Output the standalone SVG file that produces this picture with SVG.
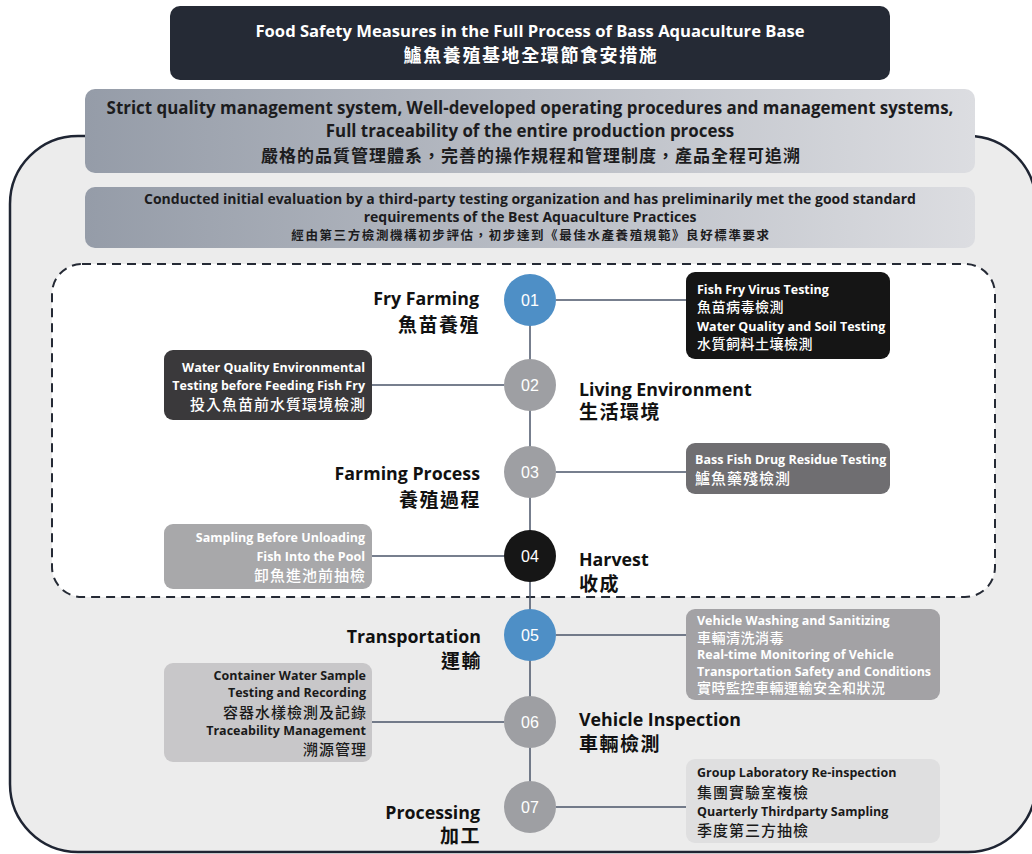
<svg xmlns="http://www.w3.org/2000/svg" width="1032" height="854" viewBox="0 0 1032 854">
<defs>
<linearGradient id="band" x1="0" y1="0" x2="1" y2="0">
<stop offset="0" stop-color="#959ca8"/>
<stop offset="1" stop-color="#dcdde1"/>
</linearGradient>
<style>
text{font-family:'Open Sans','Noto Sans CJK TC',sans-serif;}
.t{font-weight:700;fill:#ffffff;font-size:16.6px;text-anchor:middle;}
.tc{font-weight:700;fill:#ffffff;font-size:18px;text-anchor:middle;letter-spacing:1.6px;}
.q{font-weight:700;fill:#1c1c1e;font-size:16.9px;text-anchor:middle;}
.qc{font-weight:700;fill:#1c1c1e;font-size:17px;text-anchor:middle;letter-spacing:1px;}
.e{font-weight:700;fill:#1c1c1e;font-size:14px;text-anchor:middle;}
.ec{font-weight:700;fill:#1c1c1e;font-size:12.5px;text-anchor:middle;letter-spacing:1.6px;}
.lbl{font-weight:700;fill:#111;font-size:17.8px;}
.lblc{font-weight:700;fill:#111;font-size:19px;letter-spacing:1.5px;}
.end{text-anchor:end;}
.num{font-family:'Liberation Sans',sans-serif;font-size:16px;fill:#fff;text-anchor:middle;}
.bx{font-weight:700;font-size:12.5px;}
.bxc{font-weight:500;font-size:14px;letter-spacing:0.5px;}
.w{fill:#ffffff;}
.d{fill:#1a1a1a;}
.conn{stroke:#4a5468;stroke-width:1.5;fill:none;}
</style>
</defs>
<rect x="0" y="0" width="1032" height="854" fill="#ffffff"/>
<rect id="outer" x="10" y="136" width="1026" height="716" rx="68" fill="#ececec" stroke="#1f2533" stroke-width="2.5"/>

<g id="title">
<rect x="170" y="6" width="720" height="74" rx="10" fill="#252a35"/>
<text class="t" x="530" y="37">Food Safety Measures in the Full Process of Bass Aquaculture Base</text>
<text class="tc" x="531" y="62">鱸魚養殖基地全環節食安措施</text>
</g>

<g id="quality">
<rect x="85" y="89" width="890" height="84" rx="10" fill="url(#band)"/>
<text class="q" x="530" y="114">Strict quality management system, Well-developed operating procedures and management systems,</text>
<text class="q" x="530" y="137">Full traceability of the entire production process</text>
<text class="qc" x="531" y="162">嚴格的品質管理體系，完善的操作規程和管理制度，產品全程可追溯</text>
</g>

<g id="evaluation">
<rect x="85" y="187" width="890" height="61" rx="10" fill="url(#band)"/>
<text class="e" x="530" y="204">Conducted initial evaluation by a third-party testing organization and has preliminarily met the good standard</text>
<text class="e" x="530" y="222">requirements of  the Best Aquaculture Practices</text>
<text class="ec" x="531" y="240">經由第三方檢測機構初步評估，初步達到《最佳水產養殖規範》良好標準要求</text>
</g>

<rect id="farm-zone" x="52" y="264" width="943" height="333" rx="30" fill="#ffffff" stroke="#252a35" stroke-width="2" stroke-dasharray="9 6"/>

<g id="connectors">
<line class="conn" x1="530" y1="300" x2="530" y2="807"/>
<line class="conn" x1="556" y1="300" x2="686" y2="300"/>
<line class="conn" x1="372" y1="385" x2="504" y2="385"/>
<line class="conn" x1="556" y1="472" x2="686" y2="472"/>
<line class="conn" x1="372" y1="556" x2="504" y2="556"/>
<line class="conn" x1="556" y1="635" x2="686" y2="635"/>
<line class="conn" x1="372" y1="722" x2="504" y2="722"/>
<line class="conn" x1="556" y1="807" x2="686" y2="807"/>
</g>

<g id="step01">
<circle cx="530" cy="300" r="26" fill="#4e8fc6"/>
<text class="num" x="530" y="306">01</text>
<text class="lbl end" x="479" y="305">Fry Farming</text>
<text class="lblc end" x="480" y="332">魚苗養殖</text>
</g>
<g id="box01">
<rect x="686" y="272" width="204" height="87" rx="9" fill="#151515"/>
<text class="bx w" x="697" y="294">Fish Fry Virus Testing</text>
<text class="bxc w" x="697" y="312">魚苗病毒檢測</text>
<text class="bx w" x="697" y="331">Water Quality and Soil Testing</text>
<text class="bxc w" x="697" y="349">水質飼料土壤檢測</text>
</g>

<g id="step02">
<circle cx="530" cy="385" r="26" fill="#9e9fa3"/>
<text class="num" x="530" y="391">02</text>
<text class="lbl" x="579" y="396">Living Environment</text>
<text class="lblc" x="579" y="419">生活環境</text>
</g>
<g id="box02">
<rect x="164" y="350" width="208" height="70" rx="9" fill="#3a393b"/>
<text class="bx w end" x="365" y="372">Water Quality Environmental</text>
<text class="bx w end" x="365" y="390">Testing before Feeding Fish Fry</text>
<text class="bxc w end" x="366" y="410" style="font-size:15px;letter-spacing:1px">投入魚苗前水質環境檢測</text>
</g>

<g id="step03">
<circle cx="530" cy="472" r="26" fill="#9e9fa3"/>
<text class="num" x="530" y="478">03</text>
<text class="lbl end" x="480" y="480">Farming Process</text>
<text class="lblc end" x="481" y="507">養殖過程</text>
</g>
<g id="box03">
<rect x="686" y="443" width="204" height="51" rx="9" fill="#6f6e71"/>
<text class="bx w" x="695" y="464">Bass Fish Drug Residue Testing</text>
<text class="bxc w" x="695" y="484" style="font-size:15px;letter-spacing:1px">鱸魚藥殘檢測</text>
</g>

<g id="step04">
<circle cx="530" cy="556" r="26" fill="#161616"/>
<text class="num" x="530" y="562">04</text>
<text class="lbl" x="579" y="566">Harvest</text>
<text class="lblc" x="579" y="591">收成</text>
</g>
<g id="box04">
<rect x="164" y="524" width="208" height="65" rx="9" fill="#a8a8aa"/>
<text class="bx w end" x="365" y="542">Sampling Before Unloading</text>
<text class="bx w end" x="365" y="561">Fish Into the Pool</text>
<text class="bxc w end" x="366" y="581" style="font-size:15px;letter-spacing:1px">卸魚進池前抽檢</text>
</g>

<g id="step05">
<circle cx="530" cy="635" r="26" fill="#4e8fc6"/>
<text class="num" x="530" y="641">05</text>
<text class="lbl end" x="481" y="643">Transportation</text>
<text class="lblc end" x="482" y="668">運輸</text>
</g>
<g id="box05">
<rect x="686" y="609" width="254" height="91" rx="9" fill="#a3a2a5"/>
<text class="bx w" x="697" y="625">Vehicle Washing and Sanitizing</text>
<text class="bxc w" x="697" y="643">車輛清洗消毒</text>
<text class="bx w" x="697" y="659">Real-time Monitoring of Vehicle</text>
<text class="bx w" x="697" y="676">Transportation Safety and Conditions</text>
<text class="bxc w" x="697" y="693">實時監控車輛運輸安全和狀況</text>
</g>

<g id="step06">
<circle cx="530" cy="722" r="26" fill="#9e9fa3"/>
<text class="num" x="530" y="728">06</text>
<text class="lbl" x="579" y="726">Vehicle Inspection</text>
<text class="lblc" x="579" y="751">車輛檢測</text>
</g>
<g id="box06">
<rect x="164" y="663" width="208" height="99" rx="9" fill="#c8c7c9"/>
<text class="bx d end" x="366" y="680">Container Water Sample</text>
<text class="bx d end" x="366" y="697">Testing and Recording</text>
<text class="bxc d end" x="367" y="718" style="font-size:15px;letter-spacing:1px">容器水樣檢測及記錄</text>
<text class="bx d end" x="366" y="735">Traceability Management</text>
<text class="bxc d end" x="367" y="755" style="font-size:15px;letter-spacing:1px">溯源管理</text>
</g>

<g id="step07">
<circle cx="530" cy="807" r="26" fill="#9e9fa3"/>
<text class="num" x="530" y="813">07</text>
<text class="lbl end" x="480" y="819">Processing</text>
<text class="lblc end" x="481" y="843">加工</text>
</g>
<g id="box07">
<rect x="686" y="759" width="254" height="84" rx="9" fill="#dfdfe0"/>
<text class="bx d" x="697" y="777">Group Laboratory Re-inspection</text>
<text class="bxc d" x="697" y="798" style="font-size:15px;letter-spacing:1px">集團實驗室複檢</text>
<text class="bx d" x="697" y="816">Quarterly Thirdparty Sampling</text>
<text class="bxc d" x="697" y="836" style="font-size:15px;letter-spacing:1px">季度第三方抽檢</text>
</g>
</svg>
